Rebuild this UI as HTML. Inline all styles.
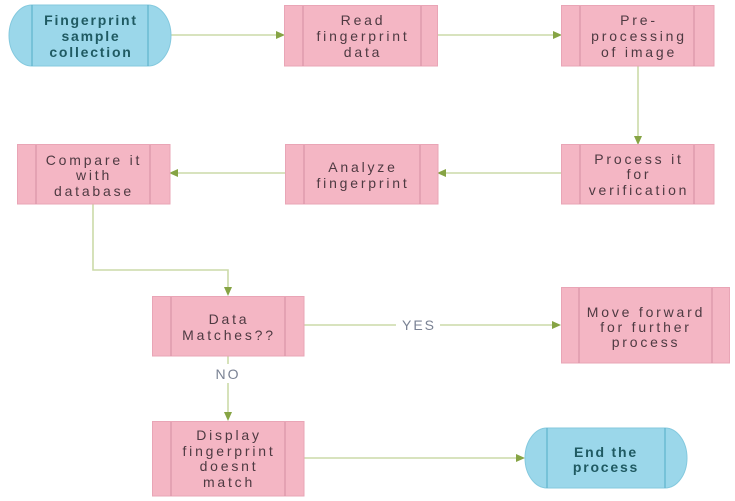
<!DOCTYPE html>
<html>
<head>
<meta charset="utf-8">
<style>
  html,body{margin:0;padding:0;background:#ffffff;}
  body{width:735px;height:501px;overflow:hidden;}
  svg{display:block;}
  .pk{fill:#f4b6c4;stroke:#e9a5b6;stroke-width:1;}
  .pl{stroke:#d994a8;stroke-width:1.2;}
  .bl{fill:#9bd7ea;stroke:#84c9de;stroke-width:1;}
  .bll{stroke:#5fb3cc;stroke-width:1.2;}
  .tp{font-family:"Liberation Sans",Arial,sans-serif;font-size:14px;fill:#4e3a42;letter-spacing:2.8px;text-anchor:middle;}
  .tb{font-family:"Liberation Sans",Arial,sans-serif;font-size:14px;font-weight:bold;fill:#1f5a62;letter-spacing:1.8px;text-anchor:middle;}
  .lbl{font-family:"Liberation Sans",Arial,sans-serif;font-size:14px;fill:#7a8294;letter-spacing:2px;text-anchor:middle;}
  .ln{stroke:#cbdaa8;stroke-width:1.6;fill:none;}
  .ah{fill:#86a444;}
</style>
</head>
<body>
<svg width="735" height="501" viewBox="0 0 735 501" xmlns="http://www.w3.org/2000/svg">
  <!-- connectors -->
  <line class="ln" x1="170" y1="35" x2="278" y2="35"/>
  <polygon class="ah" points="285,35 276,31 276,39"/>
  <line class="ln" x1="438" y1="35" x2="555" y2="35"/>
  <polygon class="ah" points="562,35 553,31 553,39"/>
  <line class="ln" x1="638" y1="66" x2="638" y2="138"/>
  <polygon class="ah" points="638,145 634,136 642,136"/>
  <line class="ln" x1="561" y1="173" x2="444" y2="173"/>
  <polygon class="ah" points="437,173 446,169 446,177"/>
  <line class="ln" x1="285" y1="173" x2="176" y2="173"/>
  <polygon class="ah" points="169,173 178,169 178,177"/>
  <polyline class="ln" points="93,204 93,270 228,270 228,289"/>
  <polygon class="ah" points="228,296 224,287 232,287"/>
  <line class="ln" x1="304" y1="325" x2="396" y2="325"/>
  <line class="ln" x1="440" y1="325" x2="554" y2="325"/>
  <polygon class="ah" points="561,325 552,321 552,329"/>
  <line class="ln" x1="228" y1="356" x2="228" y2="364"/>
  <line class="ln" x1="228" y1="383" x2="228" y2="414"/>
  <polygon class="ah" points="228,421 224,412 232,412"/>
  <line class="ln" x1="304" y1="458" x2="518" y2="458"/>
  <polygon class="ah" points="525,458 516,454 516,462"/>

  <text class="lbl" x="419" y="330">YES</text>
  <text class="lbl" x="228" y="379">NO</text>

  <!-- Start pill -->
  <path class="bl" d="M32,5 L148,5 A23,30.5 0 0 1 148,66 L32,66 A23,30.5 0 0 1 32,5 Z"/>
  <line class="bll" x1="32" y1="5" x2="32" y2="66"/>
  <line class="bll" x1="148" y1="5" x2="148" y2="66"/>
  <text class="tb" x="91" y="25">Fingerprint</text>
  <text class="tb" x="91" y="41">sample</text>
  <text class="tb" x="91" y="57">collection</text>

  <!-- Read -->
  <rect class="pk" x="284.5" y="5.5" width="153" height="60.5"/>
  <line class="pl" x1="303" y1="6" x2="303" y2="66"/>
  <line class="pl" x1="421" y1="6" x2="421" y2="66"/>
  <text class="tp" x="363" y="25">Read</text>
  <text class="tp" x="363" y="41">fingerprint</text>
  <text class="tp" x="363" y="57">data</text>

  <!-- Pre-processing -->
  <rect class="pk" x="561.5" y="5.5" width="152.5" height="60.5"/>
  <line class="pl" x1="580" y1="6" x2="580" y2="66"/>
  <line class="pl" x1="694" y1="6" x2="694" y2="66"/>
  <text class="tp" x="639" y="25">Pre-</text>
  <text class="tp" x="639" y="41">processing</text>
  <text class="tp" x="639" y="57">of image</text>

  <!-- Process it -->
  <rect class="pk" x="561.5" y="144.5" width="152.5" height="59.5"/>
  <line class="pl" x1="580" y1="145" x2="580" y2="204"/>
  <line class="pl" x1="694" y1="145" x2="694" y2="204"/>
  <text class="tp" x="639" y="164">Process it</text>
  <text class="tp" x="639" y="179">for</text>
  <text class="tp" x="639" y="195">verification</text>

  <!-- Analyze -->
  <rect class="pk" x="285.5" y="144.5" width="152.5" height="59.5"/>
  <line class="pl" x1="304" y1="145" x2="304" y2="204"/>
  <line class="pl" x1="420" y1="145" x2="420" y2="204"/>
  <text class="tp" x="363" y="172">Analyze</text>
  <text class="tp" x="363" y="188">fingerprint</text>

  <!-- Compare -->
  <rect class="pk" x="17.5" y="144.5" width="152.5" height="59.5"/>
  <line class="pl" x1="36" y1="145" x2="36" y2="204"/>
  <line class="pl" x1="150" y1="145" x2="150" y2="204"/>
  <text class="tp" x="94" y="165">Compare it</text>
  <text class="tp" x="94" y="180">with</text>
  <text class="tp" x="94" y="196">database</text>

  <!-- Data Matches -->
  <rect class="pk" x="152.5" y="296.5" width="151.5" height="59.5"/>
  <line class="pl" x1="171" y1="297" x2="171" y2="356"/>
  <line class="pl" x1="285" y1="297" x2="285" y2="356"/>
  <text class="tp" x="229" y="324">Data</text>
  <text class="tp" x="229" y="340">Matches??</text>

  <!-- Move forward -->
  <rect class="pk" x="561.5" y="287.5" width="168" height="75.5"/>
  <line class="pl" x1="579" y1="288" x2="579" y2="363"/>
  <line class="pl" x1="712" y1="288" x2="712" y2="363"/>
  <text class="tp" x="646" y="317">Move forward</text>
  <text class="tp" x="646" y="332">for further</text>
  <text class="tp" x="646" y="347">process</text>

  <!-- Display -->
  <rect class="pk" x="152.5" y="421.5" width="151.5" height="74.5"/>
  <line class="pl" x1="171" y1="422" x2="171" y2="496"/>
  <line class="pl" x1="285" y1="422" x2="285" y2="496"/>
  <text class="tp" x="229" y="440">Display</text>
  <text class="tp" x="229" y="456">fingerprint</text>
  <text class="tp" x="229" y="471">doesnt</text>
  <text class="tp" x="229" y="487">match</text>

  <!-- End pill -->
  <path class="bl" d="M547,428 L665,428 A22,30 0 0 1 665,488 L547,488 A22,30 0 0 1 547,428 Z"/>
  <line class="bll" x1="547" y1="428" x2="547" y2="488"/>
  <line class="bll" x1="665" y1="428" x2="665" y2="488"/>
  <text class="tb" x="606" y="457">End the</text>
  <text class="tb" x="606" y="472">process</text>
</svg>
</body>
</html>
